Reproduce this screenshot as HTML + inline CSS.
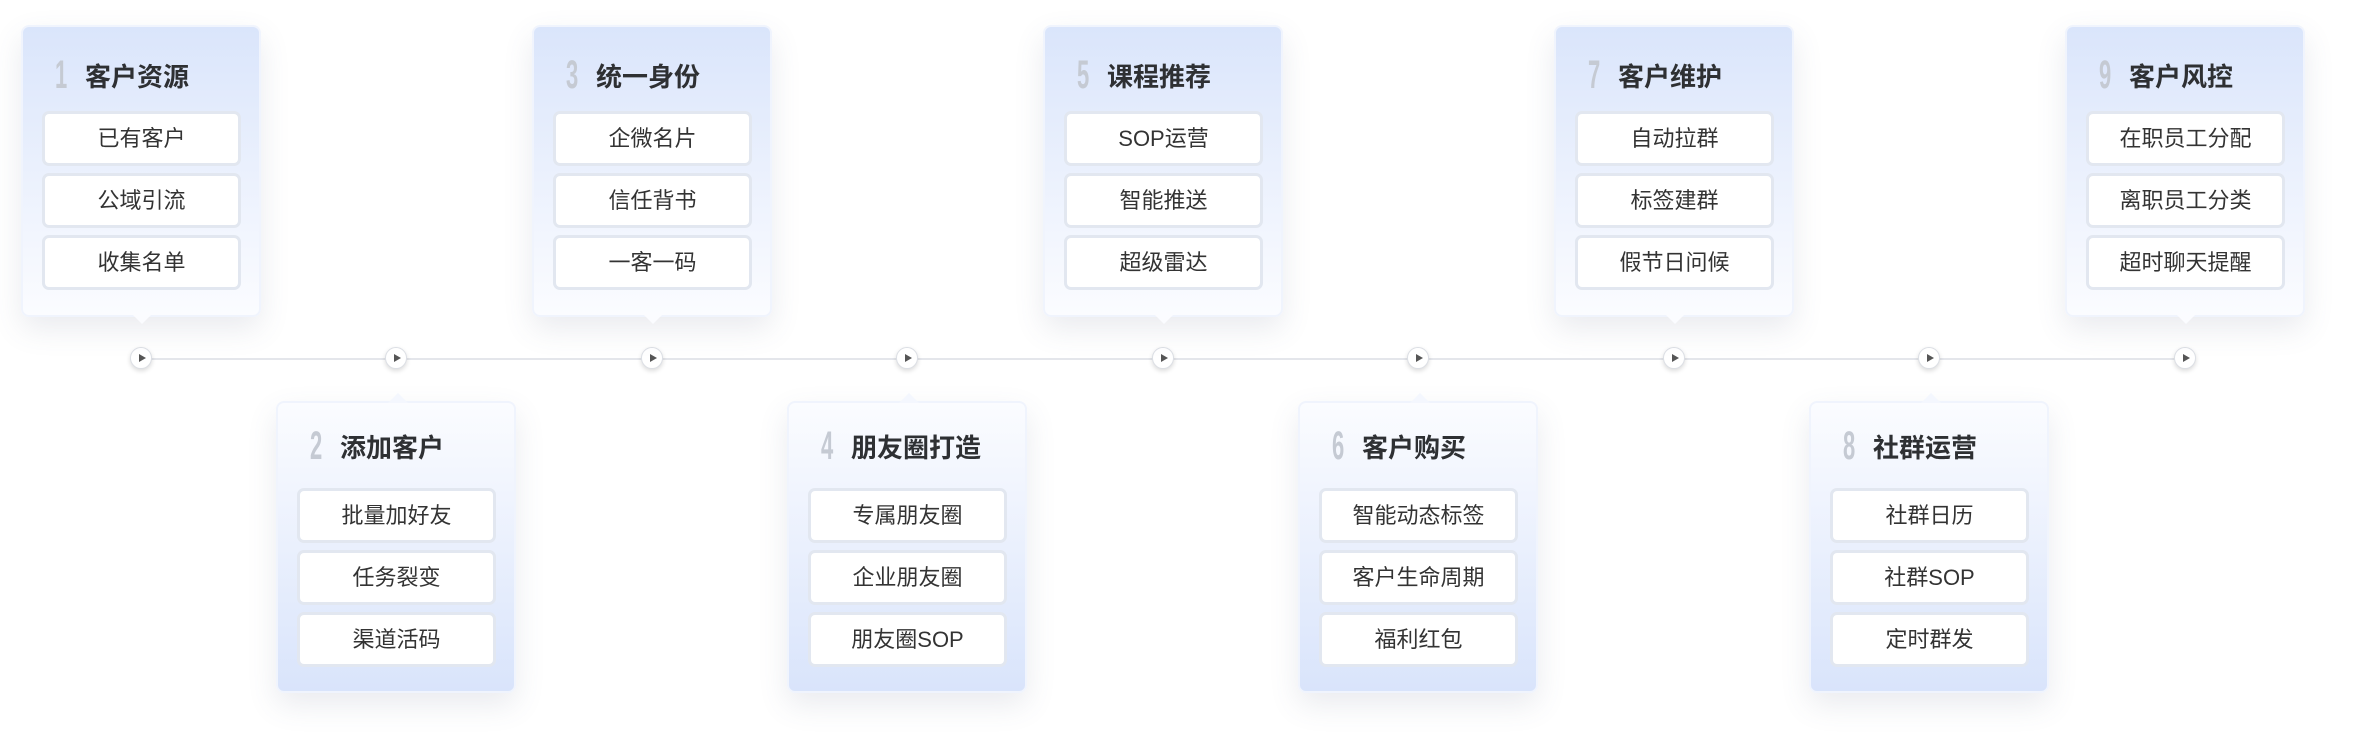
<!DOCTYPE html>
<html><head><meta charset="utf-8"><style>
html,body{margin:0;padding:0;background:#fff;width:2360px;height:750px;overflow:hidden;position:relative;font-family:"Liberation Sans","Noto Sans CJK SC",sans-serif;}
.line{position:absolute;left:141px;width:2044px;top:358px;height:2px;background:#e4e6eb;}
.dot{position:absolute;width:20px;height:20px;border-radius:50%;background:#fff;border:1.5px solid #dcdfe5;box-shadow:0 2px 5px rgba(0,0,0,0.15);top:347px;}
.dot:after{content:"";position:absolute;left:8px;top:5.5px;border-left:7px solid #555;border-top:4.5px solid transparent;border-bottom:4.5px solid transparent;}
.card{position:absolute;width:240px;height:292px;border-radius:8px;border:2px solid #f0f4fd;box-sizing:border-box;box-shadow:0 12px 30px rgba(80,90,120,0.12);}
.top{top:25px;background:linear-gradient(#dae5fb,#fbfcff);}
.bot{top:401px;background:linear-gradient(#fbfcff,#d9e4fb);}
.top:after{content:"";position:absolute;left:110px;bottom:-9px;border-top:9px solid #fbfcff;border-left:9px solid transparent;border-right:9px solid transparent;}
.bot:before{content:"";position:absolute;left:110px;top:-10px;border-bottom:10px solid #f4f7fe;border-left:10px solid transparent;border-right:10px solid transparent;}
.hd{position:absolute;left:32px;height:40px;display:flex;align-items:center;}
.top .hd{top:28px}.bot .hd{top:23px}
.num{font-size:40px;font-weight:bold;color:#c5cad3;transform:scaleX(0.55);transform-origin:left center;width:22px;display:inline-block;font-family:"Liberation Sans Narrow","Liberation Sans",sans-serif;}
.tt{font-size:26px;font-weight:bold;color:#2e3033;margin-left:8px;}
.bx{position:absolute;left:19px;width:199px;height:55px;box-sizing:border-box;border:3px solid #e2e7f0;border-radius:7px;background:#fff;text-align:center;line-height:49px;font-size:22px;color:#333;}
</style></head><body>
<div class="line"></div>
<div class="dot" style="left:130px"></div>
<div class="dot" style="left:385px"></div>
<div class="dot" style="left:641px"></div>
<div class="dot" style="left:896px"></div>
<div class="dot" style="left:1152px"></div>
<div class="dot" style="left:1407px"></div>
<div class="dot" style="left:1663px"></div>
<div class="dot" style="left:1918px"></div>
<div class="dot" style="left:2174px"></div>

<div class="card top" style="left:21px"><div class="hd"><span class="num">1</span><span class="tt">客户资源</span></div>
<div class="bx" style="top:84px">已有客户</div><div class="bx" style="top:146px">公域引流</div><div class="bx" style="top:208px">收集名单</div></div>

<div class="card bot" style="left:276px"><div class="hd"><span class="num">2</span><span class="tt">添加客户</span></div>
<div class="bx" style="top:85px">批量加好友</div><div class="bx" style="top:147px">任务裂变</div><div class="bx" style="top:209px">渠道活码</div></div>

<div class="card top" style="left:532px"><div class="hd"><span class="num">3</span><span class="tt">统一身份</span></div>
<div class="bx" style="top:84px">企微名片</div><div class="bx" style="top:146px">信任背书</div><div class="bx" style="top:208px">一客一码</div></div>

<div class="card bot" style="left:787px"><div class="hd"><span class="num">4</span><span class="tt">朋友圈打造</span></div>
<div class="bx" style="top:85px">专属朋友圈</div><div class="bx" style="top:147px">企业朋友圈</div><div class="bx" style="top:209px">朋友圈SOP</div></div>

<div class="card top" style="left:1043px"><div class="hd"><span class="num">5</span><span class="tt">课程推荐</span></div>
<div class="bx" style="top:84px">SOP运营</div><div class="bx" style="top:146px">智能推送</div><div class="bx" style="top:208px">超级雷达</div></div>

<div class="card bot" style="left:1298px"><div class="hd"><span class="num">6</span><span class="tt">客户购买</span></div>
<div class="bx" style="top:85px">智能动态标签</div><div class="bx" style="top:147px">客户生命周期</div><div class="bx" style="top:209px">福利红包</div></div>

<div class="card top" style="left:1554px"><div class="hd"><span class="num">7</span><span class="tt">客户维护</span></div>
<div class="bx" style="top:84px">自动拉群</div><div class="bx" style="top:146px">标签建群</div><div class="bx" style="top:208px">假节日问候</div></div>

<div class="card bot" style="left:1809px"><div class="hd"><span class="num">8</span><span class="tt">社群运营</span></div>
<div class="bx" style="top:85px">社群日历</div><div class="bx" style="top:147px">社群SOP</div><div class="bx" style="top:209px">定时群发</div></div>

<div class="card top" style="left:2065px"><div class="hd"><span class="num">9</span><span class="tt">客户风控</span></div>
<div class="bx" style="top:84px">在职员工分配</div><div class="bx" style="top:146px">离职员工分类</div><div class="bx" style="top:208px">超时聊天提醒</div></div>
</body></html>
